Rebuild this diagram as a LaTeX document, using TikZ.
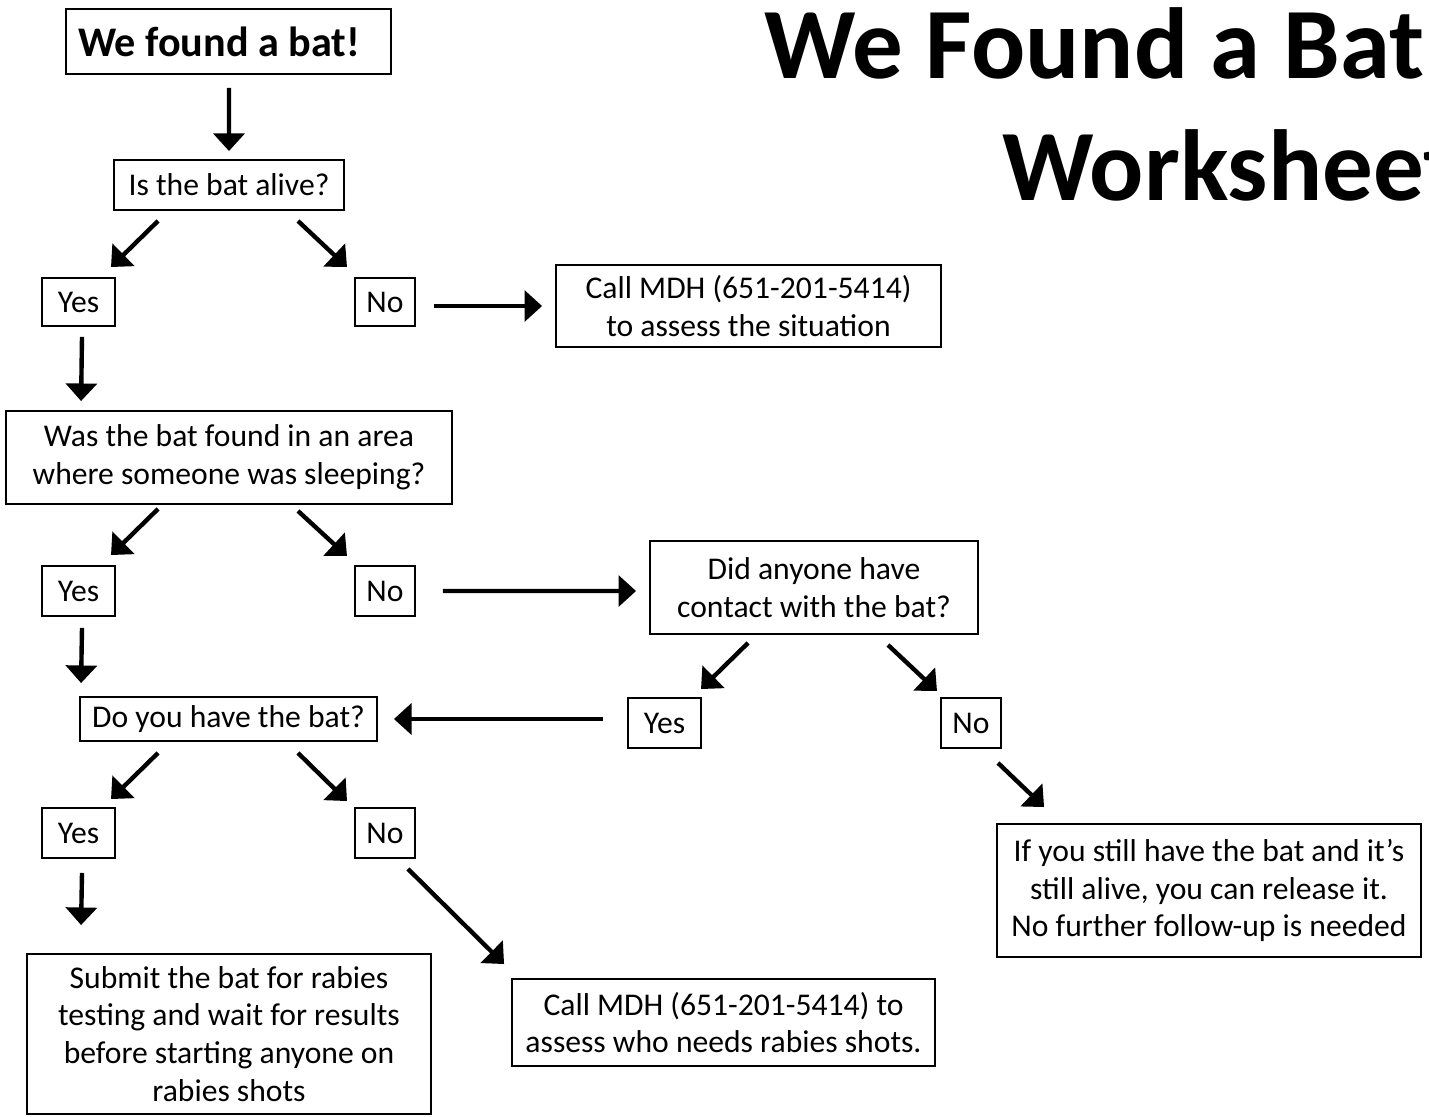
\documentclass[tikz,border=0pt]{standalone}
\usepackage{fontspec}
\setmainfont{Carlito}
\usetikzlibrary{arrows.meta,positioning}

\begin{document}
\begin{tikzpicture}[x=0.02cm, y=-0.02cm,
  box/.style={draw, line width=1.1pt, inner sep=0pt, align=center,
              font=\fontsize{18}{21.5}\selectfont},
  answer/.style={box, minimum height=1.0cm},
  heading/.style={font=\bfseries\fontsize{57.5}{69}\selectfont, inner sep=0pt},
  flow/.style={-{Triangle[length=10pt, width=17.5pt]}, line width=2.5pt}
]
\clip (0,0) rectangle (1429,1116);
\fill[white] (0,0) rectangle (1429,1116);

% Title
\node[heading, anchor=base west] (titleA) at (764,78) {We Found a Bat};
\node[heading, anchor=base west] (titleB) at (1002,200) {Worksheet};

% Start and first question
\node[box, font=\bfseries\fontsize{24}{29}\selectfont, align=flush left, inner xsep=0.24cm,
      text width=6.02cm, minimum height=1.3cm] (found) at (228.5,41.5) {We found a bat!};
\node[box, minimum width=4.6cm, minimum height=1.0cm] (alive) at (229,185) {Is the bat alive?};
\node[answer, minimum width=1.46cm, minimum height=0.96cm] (yesA) at (78.5,302) {Yes};
\node[answer, minimum width=1.2cm, minimum height=0.96cm] (noA) at (385,302) {No};
\node[box, minimum width=7.7cm, minimum height=1.64cm] (callA) at (748.5,306)
  {Call MDH (651-201-5414)\\ to assess the situation};

% Sleeping question
\node[box, minimum width=8.92cm, minimum height=1.86cm] (sleep) at (229,457.5)
  {Was the bat found in an area\\where someone was sleeping?};
\node[answer, minimum width=1.46cm] (yesB) at (78.5,591) {Yes};
\node[answer, minimum width=1.2cm] (noB) at (385,591) {No};

% Contact question
\node[box, minimum width=6.56cm, minimum height=1.86cm] (contact) at (814,587.5)
  {Did anyone have\\contact with the bat?};
\node[answer, minimum width=1.46cm] (yesC) at (664.5,723) {Yes};
\node[answer, minimum width=1.2cm] (noC) at (971,723) {No};

% Do you have the bat
\node[box, minimum width=5.94cm, minimum height=0.88cm] (have) at (228.5,719) {Do you have the bat?};
\node[answer, minimum width=1.46cm] (yesD) at (78.5,833) {Yes};
\node[answer, minimum width=1.2cm] (noD) at (385,833) {No};

% Outcomes
\node[box, minimum width=8.08cm, minimum height=3.2cm] (submit) at (229,1034)
  {Submit the bat for rabies\\testing and wait for results\\before starting anyone on\\rabies shots};
\node[box, minimum width=8.46cm, minimum height=1.74cm] (callB) at (723.5,1022.5)
  {Call MDH (651-201-5414) to\\assess who needs rabies shots.};
\node[box, minimum width=8.48cm, minimum height=2.66cm] (release) at (1209,890.5)
  {If you still have the bat and it’s\\still alive, you can release it.\\No further follow-up is needed};

% Arrows
\draw[flow] ([shift={(0.5,13)}]found.south) -- ([shift={(0,-8)}]alive.north);
\draw[flow] ([shift={(-71,10)}]alive.south) -- ([shift={(32.5,-10)}]yesA.north);
\draw[flow] ([shift={(69,10)}]alive.south) -- ([shift={(-38,-10)}]noA.north);
\draw[flow] ([shift={(18,4)}]noA.east) -- ([shift={(-13,0)}]callA.west);
\draw[flow] ([shift={(3.5,10)}]yesA.south) -- ([shift={(76,-9)}]sleep.north west);

\draw[flow] ([shift={(-71,4)}]sleep.south) -- ([shift={(32.5,-10)}]yesB.north);
\draw[flow] ([shift={(69,6)}]sleep.south) -- ([shift={(-38,-9)}]noB.north);
\draw[flow] ([shift={(27,0)}]noB.east) -- ([shift={(-13,3.5)}]contact.west);
\draw[flow] ([shift={(3.5,11)}]yesB.south) -- ([shift={(2,-13)}]have.north west);

\draw[flow] ([shift={(-66,8)}]contact.south) -- ([shift={(36.5,-8)}]yesC.north);
\draw[flow] ([shift={(74,10)}]contact.south) -- ([shift={(-34,-6)}]noC.north);
\draw[flow] ([shift={(-24,-4)}]yesC.west) -- ([shift={(16,0)}]have.east);
\draw[flow] ([shift={(27,14)}]noC.south) -- ([shift={(48,-16)}]release.north west);

\draw[flow] ([shift={(-70.5,11)}]have.south) -- ([shift={(32.5,-8)}]yesD.north);
\draw[flow] ([shift={(69.5,11)}]have.south) -- ([shift={(-38,-6)}]noD.north);
\draw[flow] ([shift={(3.5,14)}]yesD.south) -- ([shift={(55,-28)}]submit.north west);
\draw[flow] ([shift={(23,10)}]noD.south) -- ([shift={(-7,-14)}]callB.north west);

\end{tikzpicture}
\end{document}
